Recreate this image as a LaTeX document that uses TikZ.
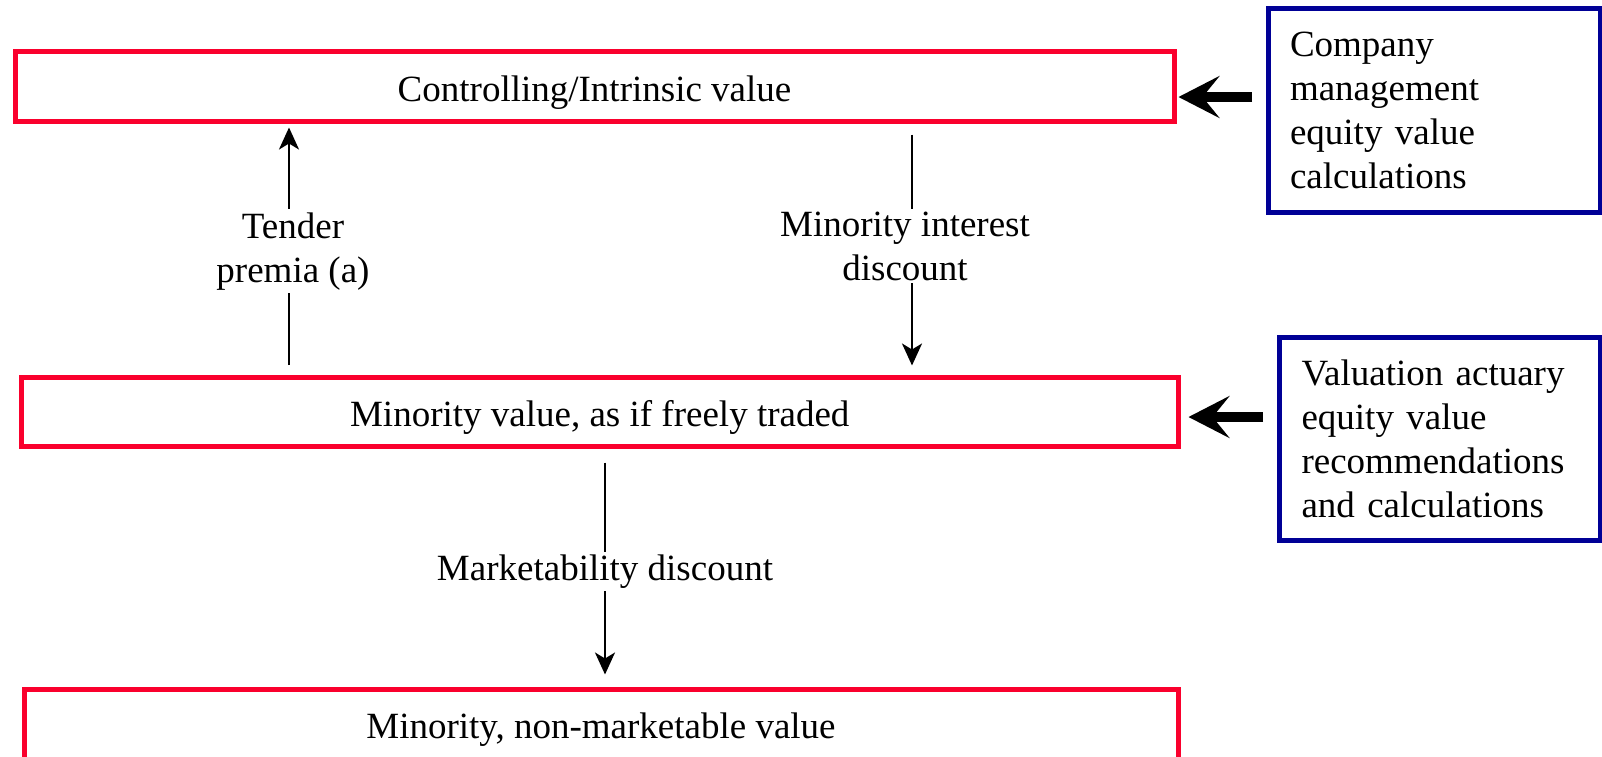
\documentclass[tikz,border=0pt]{standalone}
\usepackage{fontspec}
\setmainfont{Liberation Serif}
\usetikzlibrary{arrows.meta}
\definecolor{boxred}{RGB}{250,0,45}
\definecolor{boxblue}{RGB}{0,0,150}
\begin{document}
\begin{tikzpicture}[x=1pt,y=-1pt,
  font=\fontsize{37}{44}\selectfont,
  redbox/.style={draw=boxred, line width=5pt, inner sep=0pt, text height=34pt, text depth=5pt},
  bluebox/.style={draw=boxblue, line width=5pt, align=left, inner ysep=0pt, anchor=north west},
  thinarrow/.style={line width=2.2pt, -{Stealth[length=22pt,width=20pt,inset=6pt]}},
  thickarrow/.style={line width=10pt, -{Stealth[length=41pt,width=42pt,inset=17pt]}},
  lbl/.style={fill=white, align=center, inner sep=3pt}]
\useasboundingbox (0,0) rectangle (1602,756);

\node[redbox, minimum width=1159pt, minimum height=70pt] (ctrl) at (594.5,86.5) {Controlling/Intrinsic value};
\node[redbox, minimum width=1156.5pt, minimum height=68.5pt] (minr) at (599.75,411.75) {Minority value, as if freely traded};
\node[redbox, minimum width=1154pt, minimum height=70pt] (nonm) at (601,724) {Minority, non-marketable value};

\node[bluebox, text width=288.5pt, inner xsep=22pt, minimum height=203.5pt] (mgmt) at (1265.5,6) {Company\\management\\equity value\\calculations};
\node[bluebox, text width=276.5pt, inner xsep=22.5pt, minimum height=202.5pt] (actu) at (1276.5,335) {Valuation actuary\\equity value\\recommendations\\and calculations};

\coordinate (a1) at (0,97);
\coordinate (a2) at (0,417);
\draw[thickarrow] ([xshift=-13.5pt]mgmt.west |- a1) -- ([xshift=2pt]ctrl.east |- a1);
\draw[thickarrow] ([xshift=-13.5pt]actu.west |- a2) -- ([xshift=8pt]minr.east |- a2);

\coordinate (tx) at (289,0);
\coordinate (mx) at (912,0);
\coordinate (kx) at (605,0);
\draw[thinarrow] ([yshift=10pt]minr.north -| tx) -- node[lbl, xshift=4pt, yshift=-5pt]{Tender\\premia (a)} ([yshift=-3.5pt]ctrl.south -| tx);
\draw[thinarrow] ([yshift=-10.5pt]ctrl.south -| mx) -- node[lbl, xshift=-7pt, yshift=4pt]{Minority interest\\discount} ([yshift=9.5pt]minr.north -| mx);
\draw[thinarrow] ([yshift=-14pt]minr.south -| kx) -- node[lbl, yshift=-3pt]{Marketability discount} ([yshift=12pt]nonm.north -| kx);
\end{tikzpicture}
\end{document}
